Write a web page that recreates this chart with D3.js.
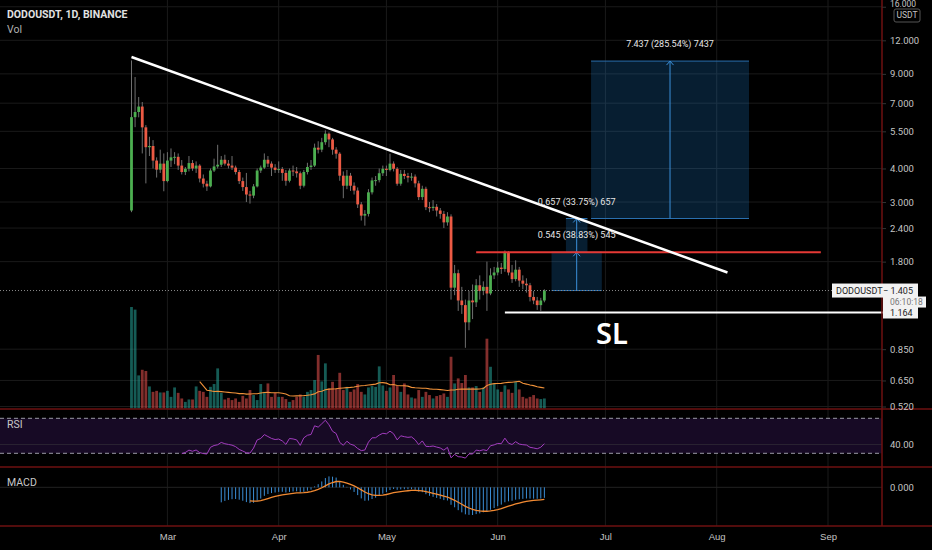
<!DOCTYPE html>
<html>
<head>
<meta charset="utf-8">
<script src="https://cdn.jsdelivr.net/npm/d3@7"></script>
<style>
  html, body { margin: 0; padding: 0; background: #000; }
  svg { display: block; font-family: Roboto, "Noto Sans", sans-serif; }
</style>
</head>
<body>
<svg id="chart" width="932" height="550"></svg>
<script>
// DODOUSDT daily candles, Binance, from 19 Feb 2021
const firstDay = "2021-02-19";

const opens = [
  2.79, 6.21, 6.49, 6.80, 5.69, 4.80, 4.85, 4.28, 3.96, 4.17,
  3.59, 4.28, 4.40, 4.42, 4.10, 3.88, 3.99, 4.19, 4.00, 4.10,
  3.67, 3.51, 3.43, 3.93, 4.07, 4.13, 4.31, 4.17, 4.10, 4.03,
  3.88, 3.59, 3.41, 3.20, 3.17, 3.43, 3.93, 4.03, 4.31, 4.17,
  4.03, 3.95, 3.98, 3.85, 3.60, 3.93, 3.90, 3.84, 3.45, 3.88,
  4.05, 4.10, 4.78, 4.70, 5.01, 5.39, 5.13, 4.70, 4.54, 3.76,
  3.45, 3.76, 3.45, 3.31, 2.94, 2.67, 2.71, 3.26, 3.61, 3.62,
  3.84, 3.99, 3.95, 4.17, 3.99, 3.51, 3.82, 3.75, 3.70, 3.73,
  3.52, 3.13, 3.36, 2.87, 2.85, 2.88, 2.79, 2.71, 2.52, 2.65,
  1.44, 1.63, 1.29, 1.24, 1.07, 1.29, 1.27, 1.47, 1.40, 1.45,
  1.37, 1.60, 1.64, 1.71, 1.69, 1.95, 1.64, 1.55, 1.68, 1.53,
  1.49, 1.47, 1.33, 1.29, 1.24, 1.29
];
const highs = [
  10.1, 8.76, 7.38, 7.07, 5.80, 5.25, 5.10, 4.40, 4.70, 4.55,
  4.60, 4.75, 4.60, 4.55, 4.30, 4.05, 4.45, 4.30, 4.25, 4.15,
  3.80, 3.60, 4.00, 4.35, 4.90, 4.45, 4.50, 4.30, 4.45, 4.10,
  3.95, 3.70, 3.85, 3.30, 3.50, 4.00, 4.10, 4.55, 4.45, 4.25,
  4.15, 4.25, 4.05, 3.95, 4.00, 4.10, 4.05, 3.90, 3.95, 4.20,
  4.30, 4.95, 5.05, 5.20, 5.55, 5.45, 5.20, 4.80, 4.60, 3.90,
  3.95, 3.85, 3.55, 3.40, 3.00, 2.80, 3.35, 3.70, 3.75, 4.00,
  4.10, 4.10, 4.54, 4.25, 4.05, 3.95, 3.95, 3.85, 3.85, 3.80,
  3.60, 3.45, 3.42, 3.00, 3.05, 2.95, 2.85, 2.78, 2.75, 2.70,
  1.75, 1.68, 1.45, 1.30, 1.40, 1.48, 1.55, 1.60, 1.52, 1.80,
  1.70, 1.72, 1.80, 1.78, 1.98, 1.97, 1.75, 1.82, 1.72, 1.60,
  1.56, 1.50, 1.40, 1.33, 1.32, 1.42
];
const lows = [
  2.75, 5.70, 6.20, 4.55, 3.52, 4.45, 4.00, 3.70, 3.85, 3.29,
  3.55, 4.05, 4.15, 3.95, 3.80, 3.78, 3.90, 3.92, 3.85, 3.55,
  3.40, 3.30, 3.40, 3.88, 4.00, 4.05, 4.10, 4.00, 3.95, 3.80,
  3.50, 3.30, 3.00, 2.96, 3.10, 3.40, 3.85, 3.98, 4.05, 3.75,
  3.85, 3.85, 3.60, 3.45, 3.55, 3.75, 3.70, 3.35, 3.40, 3.80,
  3.95, 4.05, 4.55, 4.60, 4.90, 4.80, 4.50, 4.35, 3.60, 3.10,
  3.35, 3.30, 3.20, 2.85, 2.56, 2.45, 2.65, 3.20, 3.45, 3.55,
  3.75, 3.75, 3.90, 3.90, 3.45, 3.45, 3.65, 3.55, 3.60, 3.40,
  3.05, 3.05, 2.80, 2.75, 2.78, 2.65, 2.60, 2.40, 2.45, 1.30,
  1.35, 1.18, 1.15, 0.86, 1.00, 1.10, 1.22, 1.30, 1.35, 1.18,
  1.35, 1.55, 1.60, 1.62, 1.65, 1.60, 1.50, 1.52, 1.45, 1.42,
  1.38, 1.28, 1.25, 1.19, 1.18, 1.27
];
const closes = [
  6.21, 6.49, 6.80, 5.69, 4.80, 4.85, 4.28, 3.96, 4.17, 3.59,
  4.28, 4.40, 4.42, 4.10, 3.88, 3.99, 4.19, 4.00, 4.10, 3.67,
  3.51, 3.43, 3.93, 4.07, 4.13, 4.31, 4.17, 4.10, 4.03, 3.88,
  3.59, 3.41, 3.20, 3.17, 3.43, 3.93, 4.03, 4.31, 4.17, 4.03,
  3.95, 3.98, 3.85, 3.60, 3.93, 3.90, 3.84, 3.45, 3.88, 4.05,
  4.10, 4.78, 4.70, 5.01, 5.39, 5.13, 4.70, 4.54, 3.76, 3.45,
  3.76, 3.45, 3.31, 2.94, 2.67, 2.71, 3.26, 3.61, 3.62, 3.84,
  3.99, 3.95, 4.17, 3.99, 3.51, 3.82, 3.75, 3.70, 3.73, 3.52,
  3.13, 3.36, 2.87, 2.85, 2.88, 2.79, 2.71, 2.52, 2.65, 1.44,
  1.63, 1.29, 1.24, 1.07, 1.29, 1.27, 1.47, 1.40, 1.45, 1.37,
  1.60, 1.64, 1.71, 1.69, 1.95, 1.64, 1.55, 1.68, 1.53, 1.49,
  1.47, 1.33, 1.29, 1.24, 1.29, 1.405
];
// volume in millions of DODO
const volumes = [
  50.6, 49.3, 16.5, 19.3, 18.7, 11.0, 8.3, 8.8, 8.0, 8.0,
  8.8, 5.8, 10.5, 7.8, 5.0, 3.3, 4.5, 4.5, 11.0, 8.8,
  8.3, 5.8, 10.8, 12.2, 20.0, 7.8, 4.5, 5.3, 4.2, 5.0,
  3.3, 6.3, 5.0, 9.2, 6.7, 4.2, 12.2, 8.3, 12.5, 5.8,
  7.8, 5.8, 5.8, 4.7, 3.3, 4.2, 5.8, 7.0, 5.8, 8.3,
  9.2, 14.2, 26.7, 13.5, 22.5, 10.0, 13.3, 10.0, 17.8, 9.2,
  10.8, 8.3, 9.5, 12.2, 8.3, 7.0, 10.5, 11.2, 10.8, 21.0,
  11.5, 8.8, 10.5, 16.7, 11.2, 8.3, 12.5, 7.0, 5.5, 5.0,
  9.2, 5.8, 8.3, 6.7, 5.0, 6.2, 6.7, 7.5, 5.8, 25.8,
  12.5, 15.0, 12.7, 16.7, 10.5, 10.5, 11.2, 8.3, 10.5, 34.8,
  20.8, 12.2, 9.5, 8.3, 11.5, 9.5, 7.8, 13.3, 9.5, 5.8,
  5.0, 5.8, 6.7, 5.0, 4.7, 5.0
];

const priceTicks = [16, 12, 9, 7, 5.5, 4, 3, 2.4, 1.8, 0.85, 0.65, 0.52];
const monthTicks = ["2021-03-01", "2021-04-01", "2021-05-01", "2021-06-01",
                    "2021-07-01", "2021-08-01", "2021-09-01"];

// drawings on the chart
const trendLine = [["2021-02-19", 10.4], ["2021-08-04", 1.64]];
const resistance = { from: "2021-05-26", to: "2021-08-30", price: 1.95 };
const stopLoss = { from: "2021-06-03", price: 1.164 };
const lastPrice = 1.405;
const rangeBoxes = [
  { from: "2021-06-16", to: "2021-06-30", low: 1.405, high: 1.95,  label: "0.545 (38.83%) 545" },
  { from: "2021-06-20", to: "2021-06-26", low: 1.948, high: 2.605, label: "0.657 (33.75%) 657" },
  { from: "2021-06-27", to: "2021-08-10", low: 2.605, high: 10.042, label: "7.437 (285.54%) 7437" }
];

const W = 932, H = 550;
const axisX = 882;
const pane = { mainBottom: 409, rsiBottom: 467, macdBottom: 526 };
const green = "#4caf50", red = "#ec5a44";
const gridColor = "#1a1a1a", sepColor = "#6e1111", axisText = "#c4c4c4";

const parse = d3.utcParse("%Y-%m-%d");
const day0 = parse(firstDay);
const bars = closes.map((c, i) => ({
  date: d3.utcDay.offset(day0, i),
  o: opens[i], h: highs[i], l: lows[i], c, v: volumes[i]
}));

// --- indicators -----------------------------------------------------------
function ema(vals, n) {
  const out = vals.map(() => null);
  const start = vals.findIndex(v => v != null);
  const seedEnd = start + n - 1;
  if (start < 0 || seedEnd >= vals.length) return out;
  let s = d3.mean(vals.slice(start, seedEnd + 1));
  out[seedEnd] = s;
  const k = 2 / (n + 1);
  for (let i = seedEnd + 1; i < vals.length; i++) {
    s = vals[i] * k + s * (1 - k);
    out[i] = s;
  }
  return out;
}

function rsi(vals, n) {
  const out = vals.map(() => null);
  let gain = 0, loss = 0;
  for (let i = 1; i <= n; i++) {
    const d = vals[i] - vals[i - 1];
    gain += Math.max(d, 0);
    loss += Math.max(-d, 0);
  }
  gain /= n; loss /= n;
  out[n] = 100 - 100 / (1 + gain / loss);
  for (let i = n + 1; i < vals.length; i++) {
    const d = vals[i] - vals[i - 1];
    gain = (gain * (n - 1) + Math.max(d, 0)) / n;
    loss = (loss * (n - 1) + Math.max(-d, 0)) / n;
    out[i] = 100 - 100 / (1 + gain / loss);
  }
  return out;
}

const volMa = volumes.map((v, i) => i < 19 ? null : d3.mean(volumes.slice(i - 19, i + 1)));
const rsiVals = rsi(closes, 14);
const ema12 = ema(closes, 12), ema26 = ema(closes, 26);
const macd = closes.map((c, i) => ema26[i] == null ? null : ema12[i] - ema26[i]);
const signal = ema(macd, 9);

// --- scales ---------------------------------------------------------------
const x = d3.scaleUtc()
  .domain([parse("2021-02-19"), parse("2021-09-01")])
  .range([131.5, 828]);
const y = d3.scaleLog().domain([0.52, 12]).range([406.5, 40.3]);
const yVol = d3.scaleLinear().domain([0, d3.max(volumes)]).range([408.5, 307]);
const yRsi = d3.scaleLinear().domain([30, 70]).range([453.3, 418.3]);
const yMacd = d3.scaleLinear().domain([d3.min(macd.filter(v => v != null)), 0]).range([515, 487.3]);

const svg = d3.select("#chart");
svg.append("rect").attr("width", W).attr("height", H).attr("fill", "#000");

const defs = svg.append("defs");
[["clipMain", 0, pane.mainBottom], ["clipRsi", pane.mainBottom, pane.rsiBottom],
 ["clipMacd", pane.rsiBottom, pane.macdBottom]].forEach(([id, t, b]) => {
  defs.append("clipPath").attr("id", id)
    .append("rect").attr("x", 0).attr("y", t).attr("width", axisX).attr("height", b - t);
});

// --- grid -----------------------------------------------------------------
const grid = svg.append("g");
grid.selectAll(".vgrid").data(monthTicks).join("line")
  .attr("x1", d => x(parse(d))).attr("x2", d => x(parse(d)))
  .attr("y1", 0).attr("y2", pane.macdBottom)
  .attr("stroke", gridColor);
grid.selectAll(".hgrid").data(priceTicks).join("line")
  .attr("x1", 0).attr("x2", axisX)
  .attr("y1", d => y(d)).attr("y2", d => y(d))
  .attr("stroke", gridColor);

// --- main pane ------------------------------------------------------------
const main = svg.append("g").attr("clip-path", "url(#clipMain)");

main.selectAll(".vol").data(bars).join("rect")
  .attr("x", d => x(d.date) - 1.4)
  .attr("width", 2.8)
  .attr("y", d => yVol(d.v))
  .attr("height", d => yVol(0) - yVol(d.v))
  .attr("fill", d => d.c >= d.o ? "rgba(38,166,154,0.55)" : "rgba(239,83,80,0.55)");

main.append("path")
  .datum(bars.map((b, i) => [b.date, volMa[i]]).filter(d => d[1] != null))
  .attr("fill", "none").attr("stroke", "#f0923a").attr("stroke-width", 1.1)
  .attr("d", d3.line().x(d => x(d[0])).y(d => yVol(d[1])));

// range boxes
const boxes = main.selectAll(".range").data(rangeBoxes).join("g");
boxes.append("rect")
  .attr("x", d => x(parse(d.from)))
  .attr("width", d => x(parse(d.to)) - x(parse(d.from)))
  .attr("y", d => y(d.high))
  .attr("height", d => y(d.low) - y(d.high))
  .attr("fill", "rgba(33,150,243,0.2)");
boxes.each(function (d) {
  const g = d3.select(this);
  const x0 = x(parse(d.from)), x1 = x(parse(d.to)), cx = (x0 + x1) / 2;
  const top = y(d.high), bot = y(d.low);
  g.append("line").attr("x1", x0).attr("x2", x1).attr("y1", top).attr("y2", top)
    .attr("stroke", "#2a6fae").attr("stroke-width", 1);
  g.append("line").attr("x1", x0).attr("x2", x1).attr("y1", bot).attr("y2", bot)
    .attr("stroke", "#2a6fae").attr("stroke-width", 1);
  g.append("line").attr("x1", cx).attr("x2", cx).attr("y1", bot).attr("y2", top)
    .attr("stroke", "#3a8fd9").attr("stroke-width", 1);
  g.append("path")
    .attr("d", `M${cx - 3.5},${top + 4}L${cx},${top}L${cx + 3.5},${top + 4}`)
    .attr("fill", "none").attr("stroke", "#3a8fd9").attr("stroke-width", 1);
});

// candles
const candle = main.selectAll(".candle").data(bars).join("g");
candle.append("line")
  .attr("x1", d => x(d.date)).attr("x2", d => x(d.date))
  .attr("y1", d => y(d.h)).attr("y2", d => y(d.l))
  .attr("stroke", "#6f6f6f").attr("stroke-width", 1);
candle.append("rect")
  .attr("x", d => x(d.date) - 1.4)
  .attr("width", 2.8)
  .attr("y", d => y(Math.max(d.o, d.c)))
  .attr("height", d => Math.max(1, Math.abs(y(d.o) - y(d.c))))
  .attr("fill", d => d.c >= d.o ? green : red);

// last price line
main.append("line")
  .attr("x1", 0).attr("x2", 832)
  .attr("y1", y(lastPrice)).attr("y2", y(lastPrice))
  .attr("stroke", "#8a8a8a").attr("stroke-dasharray", "1,2");

// drawings
main.append("line")
  .attr("x1", x(parse(resistance.from))).attr("x2", x(parse(resistance.to)))
  .attr("y1", y(resistance.price)).attr("y2", y(resistance.price))
  .attr("stroke", "#e53935").attr("stroke-width", 2);
main.append("line")
  .attr("x1", x(parse(trendLine[0][0]))).attr("y1", y(trendLine[0][1]))
  .attr("x2", x(parse(trendLine[1][0]))).attr("y2", y(trendLine[1][1]))
  .attr("stroke", "#fff").attr("stroke-width", 2.5);
svg.append("line")
  .attr("x1", x(parse(stopLoss.from))).attr("x2", axisX + 2)
  .attr("y1", y(stopLoss.price)).attr("y2", y(stopLoss.price))
  .attr("stroke", "#fff").attr("stroke-width", 2);

main.selectAll(".rlabel").data(rangeBoxes).join("text")
  .attr("x", d => (x(parse(d.from)) + x(parse(d.to))) / 2)
  .attr("y", d => y(d.high) - 17)
  .attr("dy", "0.35em")
  .attr("text-anchor", "middle")
  .attr("fill", "#e6e6e6").attr("font-size", 9)
  .text(d => d.label);

svg.append("text").attr("x", 596).attr("y", 344)
  .attr("fill", "#fff").attr("font-size", 29).attr("font-weight", 600)
  .attr("font-family", "'Noto Sans', sans-serif")
  .text("SL");

// --- RSI pane -------------------------------------------------------------
const rsiG = svg.append("g").attr("clip-path", "url(#clipRsi)");
rsiG.append("rect").attr("x", 0).attr("width", axisX)
  .attr("y", yRsi(70)).attr("height", yRsi(30) - yRsi(70))
  .attr("fill", "#170a25");
rsiG.append("line").attr("x1", 0).attr("x2", axisX)
  .attr("y1", yRsi(40)).attr("y2", yRsi(40)).attr("stroke", "#2a2433");
[70, 30].forEach(v => rsiG.append("line")
  .attr("x1", 0).attr("x2", axisX).attr("y1", yRsi(v)).attr("y2", yRsi(v))
  .attr("stroke", "#9a9aa6").attr("stroke-dasharray", "4,3"));
rsiG.append("path")
  .datum(bars.map((b, i) => [b.date, rsiVals[i]]).filter(d => d[1] != null))
  .attr("fill", "none").attr("stroke", "#a23cbf").attr("stroke-width", 1)
  .attr("d", d3.line().x(d => x(d[0])).y(d => yRsi(d[1])));

// --- MACD pane ------------------------------------------------------------
const macdG = svg.append("g").attr("clip-path", "url(#clipMacd)");
macdG.append("line").attr("x1", 0).attr("x2", axisX)
  .attr("y1", yMacd(0)).attr("y2", yMacd(0)).attr("stroke", "#222");
macdG.selectAll(".mbar").data(bars.map((b, i) => [b.date, macd[i]]).filter(d => d[1] != null))
  .join("line")
  .attr("x1", d => x(d[0])).attr("x2", d => x(d[0]))
  .attr("y1", yMacd(0)).attr("y2", d => yMacd(d[1]))
  .attr("stroke", "#3b8ed6").attr("stroke-width", 1);
macdG.append("path")
  .datum(bars.map((b, i) => [b.date, signal[i]]).filter(d => d[1] != null))
  .attr("fill", "none").attr("stroke", "#f28a32").attr("stroke-width", 1.3)
  .attr("d", d3.line().x(d => x(d[0])).y(d => yMacd(d[1])));

// --- separators -----------------------------------------------------------
[pane.mainBottom, pane.rsiBottom, pane.macdBottom].forEach(yy => svg.append("line")
  .attr("x1", 0).attr("x2", W).attr("y1", yy).attr("y2", yy)
  .attr("stroke", sepColor).attr("stroke-width", 1.5));
svg.append("line").attr("x1", axisX).attr("x2", axisX).attr("y1", 0).attr("y2", pane.macdBottom)
  .attr("stroke", sepColor).attr("stroke-width", 1.5);

// --- axes -----------------------------------------------------------------
const fmt3 = d3.format(".3f");
const priceAxis = svg.append("g").attr("transform", `translate(${axisX},0)`)
  .call(d3.axisRight(y).tickValues(priceTicks).tickFormat(fmt3).tickSize(4).tickPadding(4));
priceAxis.select(".domain").remove();
priceAxis.selectAll("line").attr("stroke", "#333");
priceAxis.selectAll("text").attr("fill", axisText).attr("font-size", 9.5)
  .attr("font-family", "Roboto, sans-serif");
// the top label sits just above the currency box
priceAxis.selectAll(".tick").filter(d => d === 16).select("text")
  .attr("y", -3).attr("font-size", 8.5);

svg.append("text").attr("x", axisX + 8).attr("y", yRsi(40)).attr("dy", "0.35em")
  .attr("fill", axisText).attr("font-size", 9.5).text("40.00");
svg.append("text").attr("x", axisX + 8).attr("y", yMacd(0)).attr("dy", "0.35em")
  .attr("fill", axisText).attr("font-size", 9.5).text("0.000");

const timeAxis = svg.append("g").attr("transform", `translate(0,${pane.macdBottom})`)
  .call(d3.axisBottom(x).tickValues(monthTicks.map(parse))
    .tickFormat(d3.utcFormat("%b")).tickSize(0).tickPadding(7));
timeAxis.select(".domain").remove();
timeAxis.selectAll("text").attr("fill", axisText).attr("font-size", 9.5);

// currency box
svg.append("rect").attr("x", 894).attr("y", 9).attr("width", 26).attr("height", 13)
  .attr("rx", 2).attr("fill", "#000").attr("stroke", "#555");
svg.append("text").attr("x", 907).attr("y", 15.5).attr("dy", "0.35em")
  .attr("text-anchor", "middle").attr("fill", axisText).attr("font-size", 8.5).text("USDT");

// price labels
svg.append("rect").attr("x", 832).attr("y", y(lastPrice) - 7).attr("width", 86).attr("height", 14)
  .attr("fill", "#f2f2f2");
svg.append("rect").attr("x", 883).attr("y", y(lastPrice) + 6).attr("width", 43).attr("height", 11)
  .attr("fill", "#f2f2f2");
svg.append("text").attr("x", 836).attr("y", y(lastPrice)).attr("dy", "0.35em")
  .attr("fill", "#222").attr("font-size", 9).text("DODOUSDT");
svg.append("text").attr("x", 883).attr("y", y(lastPrice)).attr("dy", "0.35em")
  .attr("fill", "#222").attr("font-size", 9).text("− " + fmt3(lastPrice));
svg.append("text").attr("x", 890).attr("y", y(lastPrice) + 11.5).attr("dy", "0.35em")
  .attr("fill", "#777").attr("font-size", 8.5).text("06:10:18");
svg.append("rect").attr("x", 883).attr("y", y(stopLoss.price) - 6).attr("width", 35).attr("height", 12)
  .attr("fill", "#f2f2f2");
svg.append("text").attr("x", 890).attr("y", y(stopLoss.price)).attr("dy", "0.35em")
  .attr("fill", "#222").attr("font-size", 9).text(fmt3(stopLoss.price));

// --- legends --------------------------------------------------------------
svg.append("text").attr("x", 7).attr("y", 18).attr("fill", "#e0e0e0")
  .attr("font-size", 10.5).attr("font-weight", 700).text("DODOUSDT, 1D, BINANCE");
svg.append("text").attr("x", 7).attr("y", 32.5).attr("fill", "#b0b0b0")
  .attr("font-size", 10.5).text("Vol");
svg.append("text").attr("x", 7).attr("y", 428).attr("fill", "#c8c8c8")
  .attr("font-size", 10.5).text("RSI");
svg.append("text").attr("x", 7).attr("y", 485.5).attr("fill", "#c8c8c8")
  .attr("font-size", 10.5).text("MACD");
</script>
</body>
</html>
